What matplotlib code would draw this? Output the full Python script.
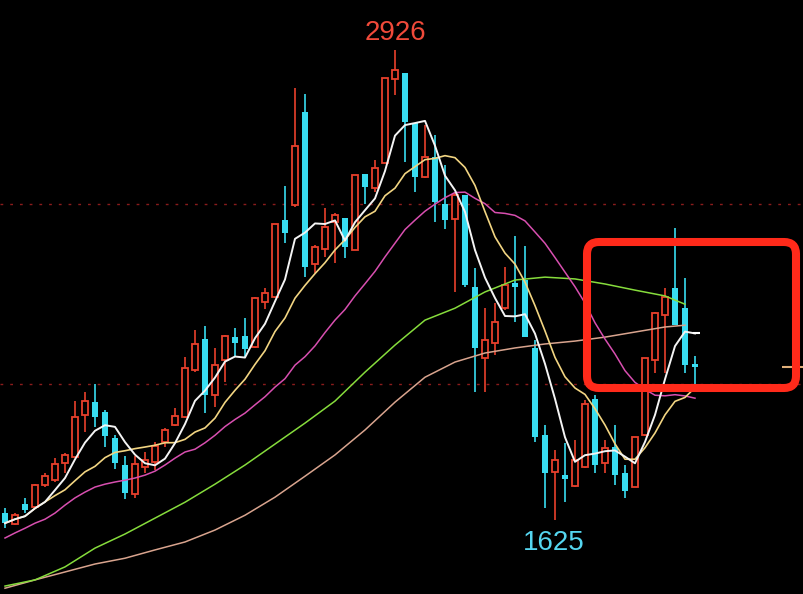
import numpy as np
import pandas as pd
import matplotlib
matplotlib.use("Agg")
import matplotlib.pyplot as plt
from matplotlib.patches import FancyBboxPatch

# daily candles (price)
opens = [1644, 1614, 1669, 1661, 1722, 1735, 1782, 1799, 1915, 1951,
         1924, 1852, 1777, 1697, 1771, 1785, 1841, 1888, 1910, 2040,
         2126, 1971, 2068, 2131, 2134, 2103, 2228, 2242, 2455, 2497,
         2754, 2333, 2375, 2450, 2461, 2372, 2582, 2544, 2613, 2845,
         2862, 2724, 2574, 2629, 2499, 2458, 2524, 2270, 2073, 2115,
         2211, 2281, 2289, 2101, 1860, 1757, 1749, 1719, 1771, 1960,
         1782, 1827, 1755, 1716, 1860, 2068, 2192, 2267, 2211, 2056]
highs = [1658, 1644, 1686, 1724, 1755, 1796, 1810, 1954, 1979, 2001,
         1929, 1860, 1802, 1802, 1813, 1841, 1879, 1935, 2076, 2151,
         2162, 2101, 2137, 2156, 2184, 2242, 2267, 2444, 2549, 2820,
         2804, 2386, 2488, 2474, 2461, 2580, 2582, 2621, 2848, 2926,
         2862, 2724, 2718, 2690, 2607, 2530, 2524, 2322, 2211, 2225,
         2325, 2411, 2383, 2123, 1888, 1818, 1838, 1846, 1957, 1971,
         1846, 1888, 1777, 1854, 2073, 2200, 2267, 2433, 2295, 2079]
lows = [1602, 1611, 1644, 1658, 1716, 1730, 1755, 1796, 1868, 1882,
        1827, 1766, 1683, 1686, 1755, 1763, 1827, 1885, 1907, 2034,
        1921, 1937, 2007, 2076, 2076, 2101, 2209, 2239, 2391, 2491,
        2297, 2308, 2353, 2336, 2350, 2372, 2499, 2533, 2613, 2801,
        2616, 2533, 2571, 2450, 2430, 2256, 2270, 1979, 1979, 2081,
        2206, 2173, 2131, 1841, 1658, 1625, 1674, 1716, 1769, 1755,
        1755, 1722, 1686, 1716, 1857, 2032, 2032, 2164, 2032, 1998]
closes = [1616, 1638, 1652, 1722, 1746, 1780, 1805, 1910, 1954, 1910,
          1857, 1782, 1699, 1780, 1791, 1829, 1874, 1913, 2045, 2112,
          1971, 2054, 2134, 2115, 2098, 2239, 2253, 2444, 2419, 2660,
          2325, 2380, 2436, 2469, 2380, 2580, 2546, 2599, 2848, 2870,
          2726, 2574, 2629, 2505, 2455, 2524, 2275, 2101, 2123, 2173,
          2275, 2270, 2131, 1854, 1755, 1791, 1738, 1791, 1946, 1777,
          1824, 1749, 1705, 1854, 2073, 2198, 2242, 2164, 2054, 2048]

# MA20 before it can be computed from the visible candles
ma20_head = [1575, 1589, 1602, 1616, 1627, 1644, 1666, 1686, 1702, 1716,
             1724, 1730, 1735, 1741, 1749, 1760, 1777, 1796, 1813]

# long moving averages, read at every third candle
long_idx = [0, 3, 6, 9, 12, 15, 18, 21, 24, 27, 30, 33, 36, 39, 42, 45,
            48, 51, 54, 57, 60, 63, 66, 68]
ma60 = [1442, 1459, 1495, 1547, 1586, 1630, 1674, 1724, 1777, 1835, 1893, 1954,
        2034, 2109, 2178, 2211, 2256, 2289, 2297, 2292, 2278, 2261, 2245, 2222]
ma120 = [1436, 1459, 1481, 1503, 1519, 1542, 1564, 1597, 1638, 1688, 1746, 1805,
         1874, 1951, 2020, 2062, 2087, 2101, 2112, 2120, 2131, 2145, 2159, 2164]

guide_levels = [2500, 2000]

RED = "#e8402c"
CYAN = "#38dcf0"

n = len(closes)
idx = np.arange(n)
close_s = pd.Series(closes, dtype=float)
ma5 = close_s.rolling(5, min_periods=1).mean()
ma10 = close_s.rolling(10, min_periods=1).mean()
ma20 = close_s.rolling(20).mean()
ma20[:len(ma20_head)] = ma20_head

fig = plt.figure(figsize=(8.04, 5.94), dpi=100, facecolor="black")
ax = fig.add_axes([0, 0, 1, 1])
ax.set_facecolor("black")
ax.set_xlim(-0.5, 79.9)
ax.set_ylim(1420, 3064)
ax.axis("off")

for lvl in guide_levels:
    ax.axhline(lvl, color="#8a1c1c", lw=1.0, ls=(0, (2, 5)), zorder=1)

# candles
for i in range(n):
    o, h, l, c = opens[i], highs[i], lows[i], closes[i]
    up = c >= o
    col = RED if up else CYAN
    ax.vlines(i, l, h, color=col, lw=1.2, zorder=2)
    bottom = min(o, c)
    height = max(abs(c - o), 3)
    if up:
        ax.bar(i, height, bottom=bottom, width=0.62, facecolor="black",
               edgecolor=col, linewidth=1.3, zorder=3)
    else:
        ax.bar(i, height, bottom=bottom, width=0.65, color=col, zorder=3)

# moving averages
ax.plot(long_idx, ma120, color="#d9a48e", lw=1.1, zorder=4)
ax.plot(long_idx, ma60, color="#86dc3c", lw=1.1, zorder=4)
ax.plot(idx, ma20, color="#d84fb0", lw=1.1, zorder=4)
ax.plot(idx, ma10, color="#f2d582", lw=1.2, zorder=5)
ax.plot(idx, ma5, color="#f4f4f4", lw=1.4, zorder=6)

# last price marker on the right edge
ax.hlines(closes[-1], 77.7, 79.9, color="#e0b07a", lw=1.5, zorder=6)
ax.hlines(ma5.iloc[-1], n - 1.2, n - 0.5, color="white", lw=1.5, zorder=6)

# swing high and the low that followed it
hi = int(np.argmax(highs))
lo = hi + int(np.argmin(lows[hi:]))
ax.annotate(str(highs[hi]), (hi, highs[hi]), xytext=(0, 3), textcoords="offset points",
            ha="center", va="bottom", color="#f04a3a", fontsize=20,
            family="Liberation Sans")
ax.annotate(str(lows[lo]), (lo, lows[lo]), xytext=(-1, -7), textcoords="offset points",
            ha="center", va="top", color="#55d6f0", fontsize=20,
            family="Liberation Sans")

# highlight box (in inches from bottom-left of the figure)
box = FancyBboxPatch((5.87, 2.06), 2.09, 1.46,
                     boxstyle="round,pad=0,rounding_size=0.12",
                     transform=fig.dpi_scale_trans, facecolor="none",
                     edgecolor="#ff2a1a", linewidth=5.8, zorder=10)
fig.patches.append(box)

fig.savefig("out.png", dpi=100, facecolor="black")
plt.close(fig)
